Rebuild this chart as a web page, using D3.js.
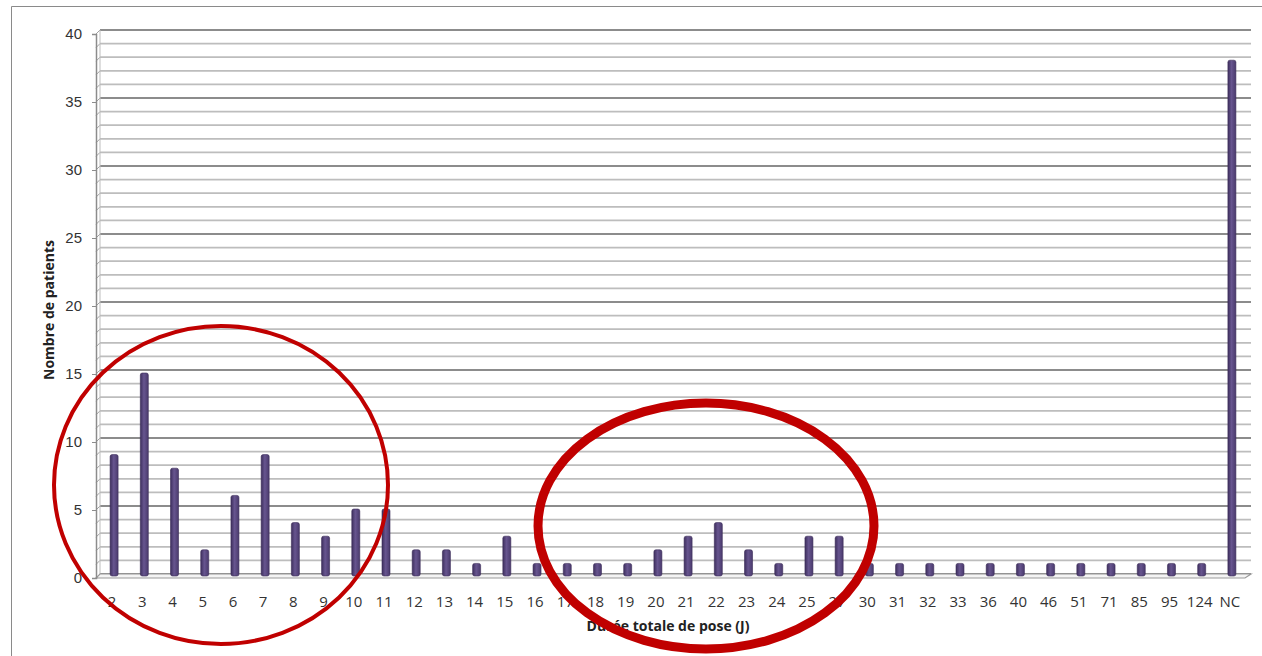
<!DOCTYPE html>
<html>
<head>
<meta charset="utf-8">
<script src="https://cdn.jsdelivr.net/npm/d3@7"></script>
<style>
  body { margin: 0; background: #fff; }
  svg { display: block; font-family: "Open Sans", "Liberation Sans", sans-serif; }
</style>
</head>
<body>
<svg id="chart" width="1262" height="656"></svg>
<script>
// data
const categories = ["2","3","4","5","6","7","8","9","10","11","12","13","14","15","16","17","18","19","20","21","22","23","24","25","27","30","31","32","33","36","40","46","51","71","85","95","124","NC"];
const patients = [9,15,8,2,6,9,4,3,5,5,2,2,1,3,1,1,1,1,2,3,4,2,1,3,3,1,1,1,1,1,1,1,1,1,1,1,1,38];
const yTicks = [0,5,10,15,20,25,30,35,40];
const xTitle = "Durée totale de pose (J)";
const yTitle = "Nombre de patients";

const svg = d3.select("#chart");
const depth = 4; // 3d offset of the back wall

const y = d3.scaleLinear().domain([0, 40]).range([578, 34]);
const x = d3.scaleBand().domain(categories).range([99, 1247]);

// outer frame (left and top edges only visible)
svg.append("path")
  .attr("d", "M11.5,656 L11.5,6.5 L1262,6.5")
  .attr("fill", "none").attr("stroke", "#8a8a8a").attr("stroke-width", 1);

// gradient for the bars
const grad = svg.append("defs").append("linearGradient").attr("id", "barGrad")
  .attr("x1", "0%").attr("x2", "100%");
grad.append("stop").attr("offset", "0%").attr("stop-color", "#3e2f5e");
grad.append("stop").attr("offset", "45%").attr("stop-color", "#67558f");
grad.append("stop").attr("offset", "100%").attr("stop-color", "#4a3a6d");

// gridlines: minor each unit, major each 5
const grid = svg.append("g");
d3.range(0, 41).forEach(v => {
  const major = v % 5 === 0;
  const yy = y(v);
  grid.append("line")
    .attr("x1", 100).attr("x2", 1251)
    .attr("y1", yy - depth).attr("y2", yy - depth)
    .attr("stroke", major ? "#8c8c8c" : "#bdbdbd")
    .attr("stroke-width", 1.8);
  grid.append("line")
    .attr("x1", 96).attr("x2", 100)
    .attr("y1", yy).attr("y2", yy - depth)
    .attr("stroke", "#a0a0a0").attr("stroke-width", 1);
});

// left wall edge
svg.append("line").attr("x1", 100).attr("x2", 100).attr("y1", y(40) - depth).attr("y2", y(0) - depth)
  .attr("stroke", "#bdbdbd").attr("stroke-width", 1);

// floor
svg.append("path")
  .attr("d", `M96,${y(0)} L100,${y(0) - depth} L1251,${y(0) - depth} L1245,${y(0)} Z`)
  .attr("fill", "#f4f4f4").attr("stroke", "#9a9a9a").attr("stroke-width", 1.2);

// y axis
const yAxis = svg.append("g").attr("transform", "translate(96,0)")
  .call(d3.axisLeft(y).tickValues(yTicks).tickSize(4).tickPadding(10));
yAxis.select(".domain").attr("stroke", "#8c8c8c").attr("stroke-width", 1.5);
yAxis.selectAll(".tick line").attr("stroke", "#8c8c8c");
yAxis.selectAll("text").attr("font-size", 15).attr("fill", "#333");

// bars
const bw = 8;
svg.append("g").selectAll("rect")
  .data(patients)
  .join("rect")
  .attr("x", (d, i) => x(categories[i]) + x.bandwidth() / 2 - bw / 2)
  .attr("y", d => y(d) - 1)
  .attr("width", bw)
  .attr("height", d => y(0) - y(d) - 1)
  .attr("rx", 2)
  .attr("fill", "url(#barGrad)")
  .attr("stroke", "#3a2c58").attr("stroke-width", 0.6);

// x labels
svg.append("g").selectAll("text")
  .data(categories)
  .join("text")
  .attr("x", d => x(d) + x.bandwidth() / 2 - 2)
  .attr("y", 607)
  .attr("text-anchor", "middle")
  .attr("font-size", 15)
  .attr("fill", "#333")
  .text(d => d);

// titles
svg.append("text")
  .attr("x", 668).attr("y", 631)
  .attr("text-anchor", "middle")
  .attr("font-size", 14).attr("font-weight", "bold").attr("fill", "#222")
  .text(xTitle);

svg.append("text")
  .attr("transform", "translate(54,310) rotate(-90)")
  .attr("text-anchor", "middle")
  .attr("font-size", 14).attr("font-weight", "bold").attr("fill", "#222")
  .text(yTitle);

// red annotation circles
svg.append("ellipse")
  .attr("cx", 221).attr("cy", 485).attr("rx", 167).attr("ry", 159)
  .attr("fill", "none").attr("stroke", "#c00000").attr("stroke-width", 4);
svg.append("ellipse")
  .attr("cx", 706).attr("cy", 526).attr("rx", 168).attr("ry", 123)
  .attr("fill", "none").attr("stroke", "#c00000").attr("stroke-width", 9);
</script>
</body>
</html>
